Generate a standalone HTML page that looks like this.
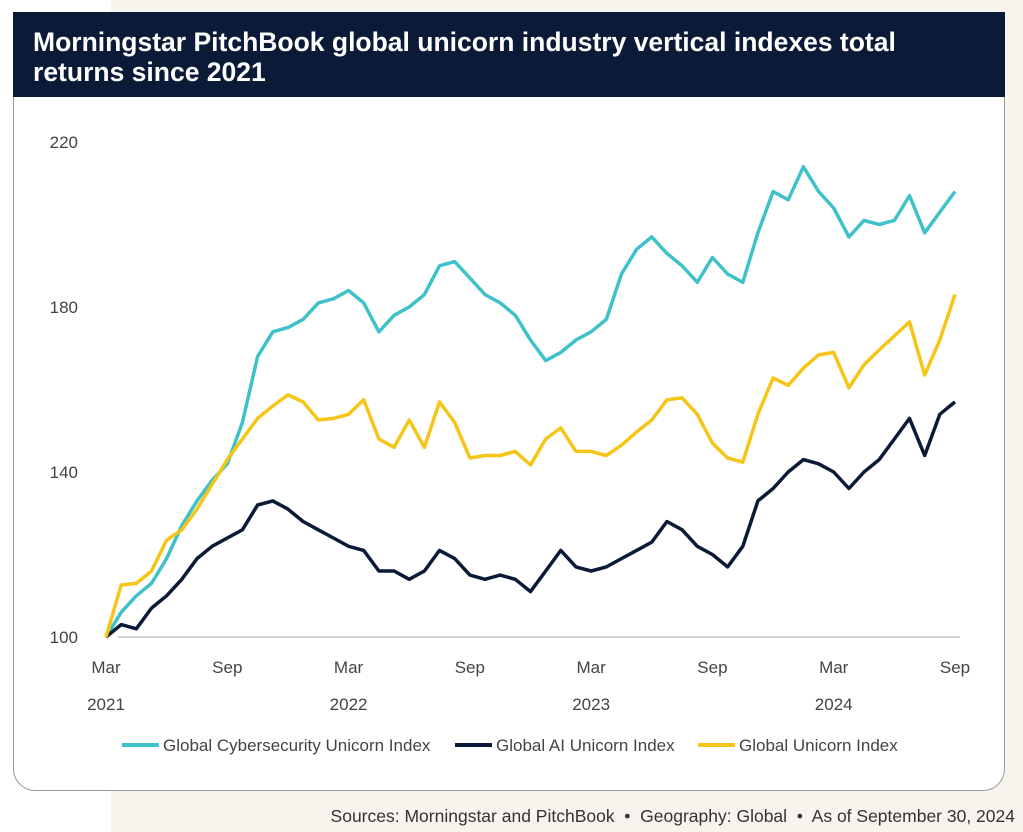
<!DOCTYPE html>
<html><head><meta charset="utf-8"><style>
body{margin:0;width:1023px;height:832px;position:relative;background:#fff;font-family:"Liberation Sans",sans-serif;overflow:hidden}
#cream{position:absolute;left:111px;top:0;width:912px;height:832px;background:#f7f4ee}
#card{position:absolute;left:13px;top:12px;width:992px;height:779px;background:#fff;border:1.5px solid #9a9a9a;border-top:none;border-radius:0 0 22px 22px;box-sizing:border-box}
#hdr{position:absolute;left:13px;top:12px;width:992px;height:85px;background:#0b1a36;color:#fff;font-weight:bold;font-size:26.5px;line-height:30px;padding:15px 0 0 20px;box-sizing:border-box;white-space:nowrap}
#src{position:absolute;right:8px;top:806px;font-size:17.5px;color:#333;white-space:nowrap}
svg{position:absolute;left:0;top:0}
</style></head><body>
<div id="cream"></div>
<div id="card"></div>
<div id="hdr">Morningstar PitchBook global unicorn industry vertical indexes total<br>returns since 2021</div>
<svg id="chart" width="1023" height="832"></svg>
<div id="src">Sources: Morningstar and PitchBook &nbsp;•&nbsp; Geography: Global &nbsp;•&nbsp; As of September 30, 2024</div>
<script>
const monthsSinceMar2021 = Array.from({length:57},(_, i)=>i*0.75);
const cyber = [100,106,110,113,119,127,133,138,142,152,168,174,175,177,181,182,184,181,174,178,180,183,190,191,187,183,181,178,172,167,169,172,174,177,188,194,197,193,190,186,192,188,186,198,208,206,214,208,204,197,201,200,201,207,198,203,208];
const ai = [100,103,102,107,110,114,119,122,124,126,132,133,131,128,126,124,122,121,116,116,114,116,121,119,115,114,115,114,111,116,121,117,116,117,119,121,123,128,126,122,120,117,122,133,136,140,143,142,140,136,140,143,148,153,144,154,157];
const unicorn = [100,112.6,113,116,123.5,126,131,137,143,148,153,156,158.7,157,152.6,153,154,157.5,148,146,152.6,146,157,152,143.4,144,144,145,141.7,148,150.7,145,145,144,146.5,149.7,152.6,157.5,158,154,147,143.4,142.4,154,162.8,161,165.2,168.4,169,160.4,166,169.6,173,176.4,163.5,172,183];
const yTicks = [100,140,180,220];
const xTickMonths = [0,6,12,18,24,30,36,42];
const xTickLabels = ["Mar","Sep","Mar","Sep","Mar","Sep","Mar","Sep"];
const yearLabels = ["2021","2022","2023","2024"];
const yearMonths = [0,12,24,36];
const series = [
 {name:"Global Cybersecurity Unicorn Index",vals:cyber,color:"#3fc1c9",key:"cybersecurity"},
 {name:"Global AI Unicorn Index",vals:ai,color:"#0b1a36",key:"ai"},
 {name:"Global Unicorn Index",vals:unicorn,color:"#f5c518",key:"unicorn"}];
const svg=document.getElementById('chart');const NS="http://www.w3.org/2000/svg";
const X=m=>106+m*(955-106)/42;
const Y=v=>637-(v-100)*(637-142)/120;
function mk(t,a,txt){const e=document.createElementNS(NS,t);for(const k in a)e.setAttribute(k,a[k]);if(txt!=null)e.textContent=txt;svg.appendChild(e);return e;}
const base=mk('line',{x1:118,x2:960,y1:Y(100),y2:Y(100),stroke:'#c8c8c8','stroke-width':1.5});


yTicks.forEach(v=>{const t=mk('text',{x:78,y:Y(v)+6,'text-anchor':'end','font-size':17,fill:'#444','font-family':'Liberation Sans'},String(v));

});
xTickMonths.forEach((m,i)=>{const t=mk('text',{x:X(m),y:673,'text-anchor':'middle','font-size':17,fill:'#444','font-family':'Liberation Sans'},xTickLabels[i]);

});
yearMonths.forEach((m,i)=>{const t=mk('text',{x:X(m),y:710,'text-anchor':'middle','font-size':17,fill:'#444','font-family':'Liberation Sans'},yearLabels[i]);

});
series.forEach(s=>{const d=s.vals.map((v,i)=>(i?'L':'M')+X(monthsSinceMar2021[i]).toFixed(1)+','+Y(v).toFixed(1)).join(' ');
const p=mk('path',{d:d,fill:'none',stroke:s.color,'stroke-width':3.5,'stroke-linejoin':'round'});

});
const lx=[122,455,698];
series.forEach((s,i)=>{const l=mk('line',{x1:lx[i],x2:lx[i]+37,y1:745,y2:745,stroke:s.color,'stroke-width':4});


const t=mk('text',{x:lx[i]+41,y:751,'font-size':17,fill:'#444','font-family':'Liberation Sans'},s.name);

});
</script>
</body></html>
